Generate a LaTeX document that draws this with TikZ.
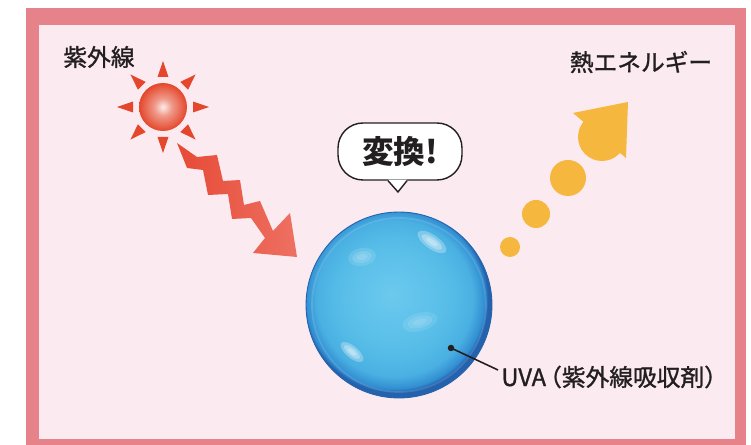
\documentclass[tikz,border=0pt]{standalone}
\usepackage{fontspec}
\usepackage{xcolor}
\usepackage{tikz}
\usetikzlibrary{calc, positioning}
\newfontfamily\jpfont[FakeBold=1.2]{Noto Sans CJK JP}
\newfontfamily\jpbold{Noto Sans CJK JP}
\definecolor{ink}{HTML}{231F20}
\definecolor{cframe}{HTML}{E6838A}
\definecolor{cpaper}{HTML}{FBEBF1}
\definecolor{sunred}{HTML}{E4472B}
\definecolor{zigred}{HTML}{E64A35}
\definecolor{zigpink}{HTML}{EE7062}
\definecolor{heat}{HTML}{F5B73E}
\definecolor{blue1}{HTML}{6CC9EE}
\definecolor{blue2}{HTML}{58BEE8}
\definecolor{blue3}{HTML}{4AB0E2}
\definecolor{blue4}{HTML}{328ED1}
\definecolor{blue5}{HTML}{2462AE}
\pgfdeclareradialshading{sunball}{\pgfpoint{0bp}{0bp}}{color(0bp)=(white!90!sunred); color(9bp)=(white!45!sunred); color(25bp)=(sunred); color(50bp)=(sunred)}
\pgfdeclareradialshading{uvaball}{\pgfpoint{-2bp}{3bp}}{color(0bp)=(blue1); color(14bp)=(blue2); color(21bp)=(blue3); color(24bp)=(blue4); color(25bp)=(blue5); color(50bp)=(blue5)}

\begin{document}
\begin{tikzpicture}[x=0.02cm, y=-0.02cm, font=\jpfont,
    jptext/.style={font=\jpfont\fontsize{13.5pt}{16pt}\selectfont, text=ink, inner sep=0pt},
    bubble/.style={draw=ink, line width=0.8pt, fill=white, rounded corners=0.5cm,
      minimum width=2.48cm, minimum height=1.14cm, inner sep=0pt,
      font=\jpbold\bfseries\fontsize{18pt}{22pt}\selectfont, text=ink},
    gloss/.style={fill=white, opacity=#1}]
  \useasboundingbox (0,0) rectangle (751,445);
  % frame and background
  \fill[cframe] (26,8) rectangle (746,445);
  \fill[cpaper] (39,25) rectangle (735,439);

  % sun with rays
  \node[circle, inner sep=0pt, minimum size=0.96cm, shading=sunball] (sun) at (163,107) {};
  \foreach \a in {0,45,...,315}{
    \fill[sunred] ($(sun.center)+(\a:30)+(\a+90:5.5)$) -- ($(sun.center)+(\a:46)$)
      -- ($(sun.center)+(\a:30)+(\a-90:5.5)$) -- cycle;
  }
  \node[jptext] (uvlabel) at (99,57) {紫外線};

  % zigzag ray
  \shade[left color=zigred, right color=zigpink] (177,143) -- (197,157) -- (217,155) -- (223,181)
    -- (240,180) -- (244,205) -- (260,201) -- (273,231) -- (290,213) -- (297,257) -- (253,253)
    -- (265,238) -- (251,218) -- (232,219) -- (228,194) -- (208,195) -- (203,170) -- (187,168) -- cycle;

  % absorber sphere
  \node[circle, inner sep=0pt, minimum size=3.72cm, shading=uvaball,
    draw=blue5, line width=0.5pt] (sphere) at (399,305) {};
  \draw[white, opacity=0.12, line width=1pt] (sphere.center) circle (87);
  % soft glints
  \foreach \x/\y/\ang/\w/\h/\k in {432/242/-35/17/7/0.28, 362/257/10/14/9/0.12,
      420/322/15/18/9/0.1, 352/352/-40/14/6/0.28}{
    \fill[gloss=\k, rotate around={\ang:(\x,\y)}] (\x,\y) ellipse [x radius=\w, y radius=\h];
    \fill[gloss=\k, rotate around={\ang:(\x,\y)}] (\x,\y) ellipse [x radius=0.7*\w, y radius=0.65*\h];
    \fill[gloss=\k, rotate around={\ang:(\x,\y)}] (\x,\y) ellipse [x radius=0.4*\w, y radius=0.35*\h];
  }

  % callout
  \node[circle, fill=ink, inner sep=0pt, minimum size=0.13cm] (pin) at (451,348) {};
  \node[jptext, anchor=west] (uvatext) at (501,377) {UVA\kern-4.5pt（紫外線吸収剤）};
  \draw[ink, line width=0.9pt] (pin.center) -- ($(uvatext.west)+(-3,-7)$);

  % speech bubble
  \node[bubble] (conv) at (400,151.5) {変換!};
  \coordinate (tip) at (398,192);
  \fill[white] ($(conv.south)+(-12,-1)$) -- (tip) -- ($(conv.south)+(7,-1)$) -- cycle;
  \draw[ink, line width=0.8pt] ($(conv.south)+(-12,0)$) -- (tip) -- ($(conv.south)+(7,0)$);

  % heat dots and arrow
  \foreach \x/\y/\r in {510/247/10, 536/214/14, 568/178/18}{
    \fill[heat] (\x,\y) circle (\r);
  }
  \fill[heat] (602,137) circle (24);
  \fill[heat] (573,113) -- (628,102) -- (626,158) -- cycle;
  \node[jptext] (heatlabel) at (641,62) {熱エネルギー};
\end{tikzpicture}
\end{document}
